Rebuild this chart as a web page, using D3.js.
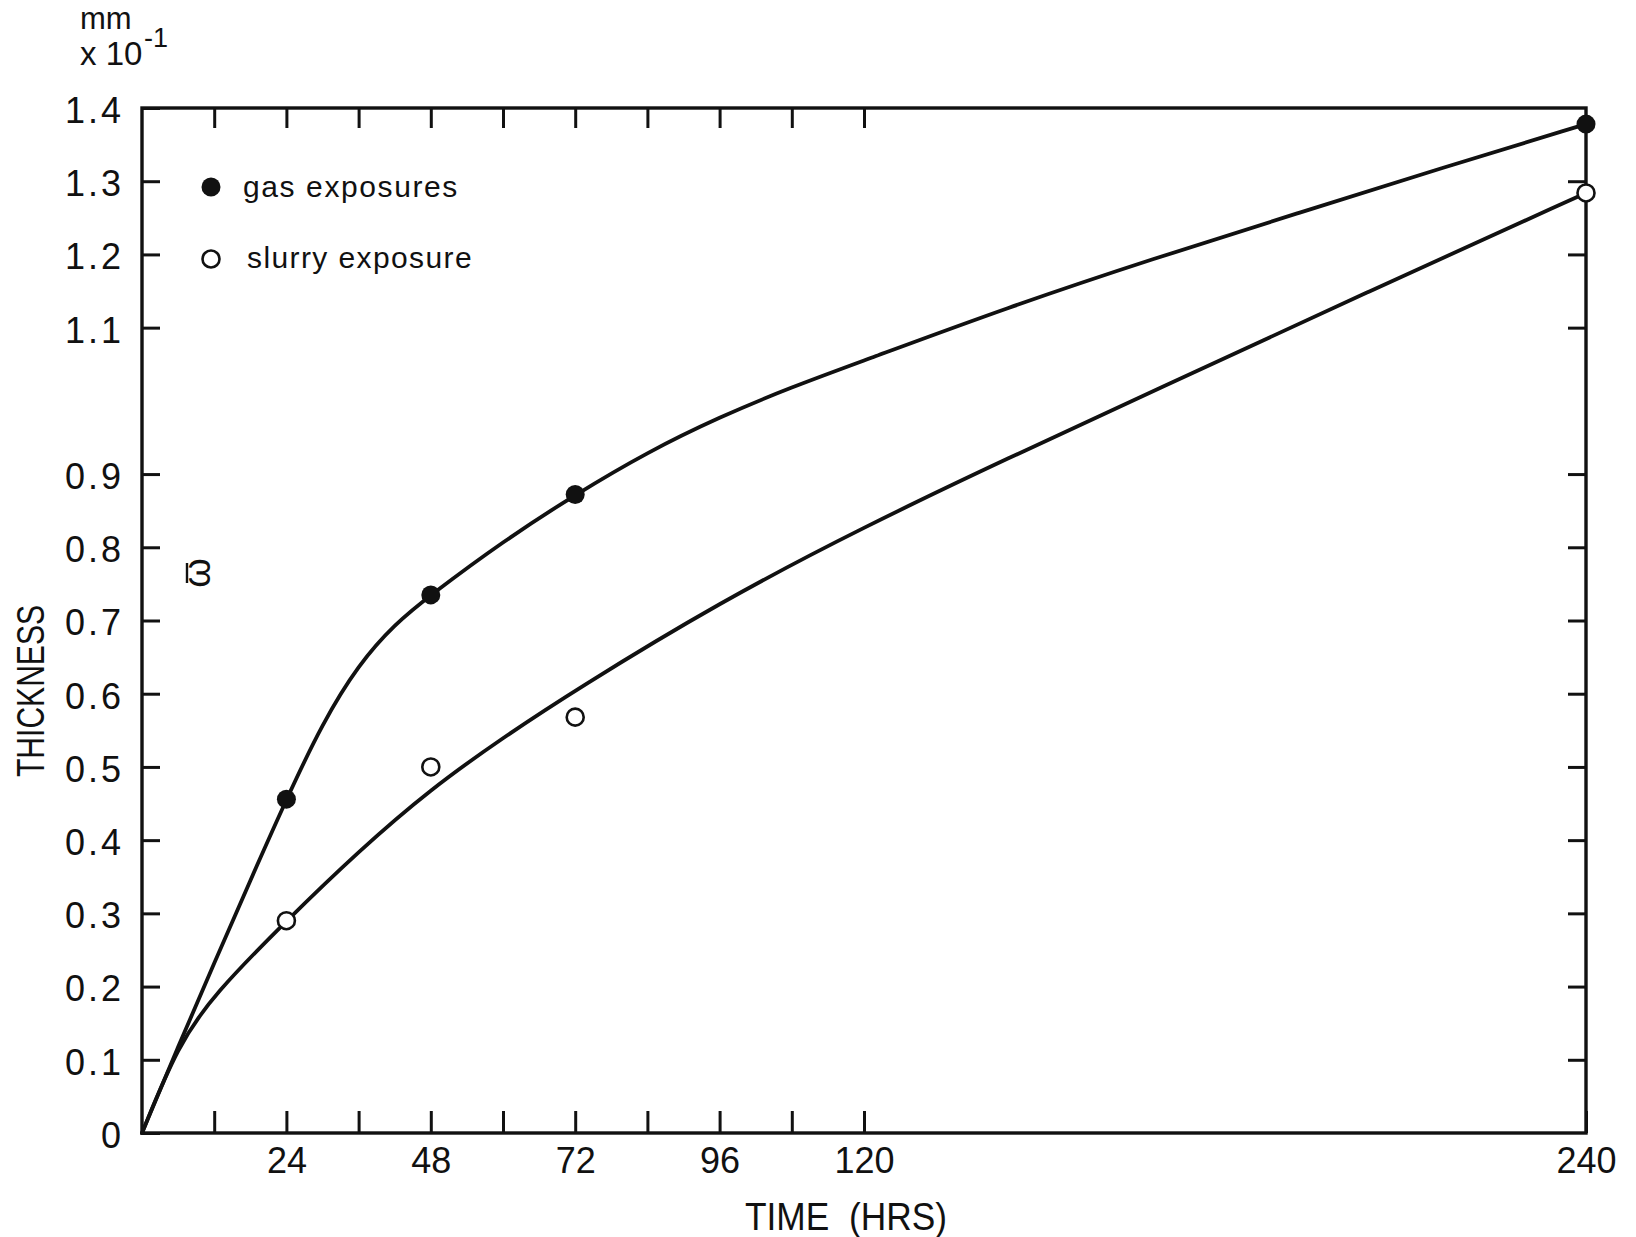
<!DOCTYPE html>
<html><head><meta charset="utf-8">
<script src="https://cdn.jsdelivr.net/npm/d3@7"></script>
<style>
html,body{margin:0;padding:0;background:#ffffff;}
svg{display:block;}
text{font-family:"Liberation Sans",Arial,sans-serif;fill:#111;}
</style></head><body>
<svg id="chart" width="1636" height="1237"></svg>
<script>
// ---- data ----
const gasHours = [24, 48, 72, 240];
const gasValues = [0.456, 0.735, 0.872, 1.378];
const slurryHours = [24, 48, 72, 240];
const slurryValues = [0.29, 0.50, 0.568, 1.284];

// hand-drawn fitted curves
const gasCurveHours = [0, 6, 12, 18, 24, 30, 36, 42, 48, 60, 72, 84, 96, 108, 120, 144, 168, 192, 216, 240];
const gasCurveValues = [0, 0.118, 0.232, 0.345, 0.456, 0.56, 0.64, 0.695, 0.735, 0.808, 0.872, 0.93, 0.978, 1.019, 1.055, 1.128, 1.194, 1.256, 1.318, 1.378];
const slurryCurveHours = [0, 6, 12, 24, 36, 48, 60, 72, 96, 120, 144, 168, 204, 240];
const slurryCurveValues = [0, 0.12, 0.19, 0.29, 0.385, 0.47, 0.54, 0.605, 0.725, 0.828, 0.922, 1.013, 1.15, 1.284];

const xTickValues = [12, 24, 36, 48, 60, 72, 84, 96, 108, 120, 240];
const xTickLabels = [24, 48, 72, 96, 120, 240];
const yTickValues = [0, 0.1, 0.2, 0.3, 0.4, 0.5, 0.6, 0.7, 0.8, 0.9, 1.1, 1.2, 1.3, 1.4];
const seriesNames = ["gas exposures", "slurry exposure"];

// ---- drawing ----
const svg = d3.select("#chart");
const ink = "#111";
const x = d3.scaleLinear().domain([0, 240]).range([142, 1586]);
const y = d3.scaleLinear().domain([0, 1.4]).range([1133, 108]);

function styleAxis(g, fontSize) {
  g.select(".domain").remove();
  g.selectAll(".tick line").attr("stroke", ink).attr("stroke-width", 3);
  g.selectAll(".tick text").attr("fill", ink).attr("font-size", fontSize)
    .attr("font-family", '"Liberation Sans", Arial, sans-serif');
}

// bottom axis with labels
svg.append("g").attr("transform", `translate(0,${y(0)})`)
  .call(d3.axisBottom(x).tickValues(xTickValues).tickSize(-22).tickPadding(14)
    .tickFormat(d => xTickLabels.includes(d) ? d : ""))
  .call(g => styleAxis(g, 36));
// top axis ticks
svg.append("g").attr("transform", `translate(0,${y(1.4)})`)
  .call(d3.axisTop(x).tickValues(xTickValues.filter(d => d < 240)).tickSize(-20).tickFormat(""))
  .call(g => styleAxis(g, 10));
// left axis with labels
svg.append("g").attr("transform", `translate(${x(0)},0)`)
  .call(d3.axisLeft(y).tickValues(yTickValues).tickSize(-18).tickPadding(18)
    .tickFormat(d => d === 0 ? "0" : d3.format(".1f")(d)))
  .call(g => styleAxis(g, 36))
  .call(g => g.selectAll(".tick text").attr("letter-spacing", 3).attr("dy", "0.4em"));
// right axis ticks
svg.append("g").attr("transform", `translate(${x(240)},0)`)
  .call(d3.axisRight(y).tickValues(yTickValues.filter(d => d > 0 && d < 1.4)).tickSize(-18).tickFormat(""))
  .call(g => styleAxis(g, 10));

// frame
svg.append("rect")
  .attr("x", x(0)).attr("y", y(1.4))
  .attr("width", x(240) - x(0)).attr("height", y(0) - y(1.4))
  .attr("fill", "none").attr("stroke", ink).attr("stroke-width", 3.4);

// curves
const line = d3.line().x(d => x(d[0])).y(d => y(d[1])).curve(d3.curveBasis);
svg.append("path").datum(d3.zip(gasCurveHours, gasCurveValues))
  .attr("d", line).attr("fill", "none").attr("stroke", ink).attr("stroke-width", 3.8)
  .attr("stroke-linecap", "round");
svg.append("path").datum(d3.zip(slurryCurveHours, slurryCurveValues))
  .attr("d", line).attr("fill", "none").attr("stroke", ink).attr("stroke-width", 3.8)
  .attr("stroke-linecap", "round");

// markers
svg.append("g").selectAll("circle").data(d3.zip(gasHours, gasValues)).join("circle")
  .attr("cx", d => x(d[0])).attr("cy", d => y(d[1])).attr("r", 9.5).attr("fill", ink);
svg.append("g").selectAll("circle").data(d3.zip(slurryHours, slurryValues)).join("circle")
  .attr("cx", d => x(d[0])).attr("cy", d => y(d[1])).attr("r", 8.5).attr("fill", "#fff")
  .attr("stroke", ink).attr("stroke-width", 2.6);

// legend
svg.append("circle").attr("cx", 211).attr("cy", 187).attr("r", 9.5).attr("fill", ink);
svg.append("text").attr("x", 243).attr("y", 197).attr("font-size", 30).attr("letter-spacing", 1.6).text(seriesNames[0]);
svg.append("circle").attr("cx", 211).attr("cy", 259).attr("r", 8.5).attr("fill", "#fff").attr("stroke", ink).attr("stroke-width", 2.6);
svg.append("text").attr("x", 247).attr("y", 268).attr("font-size", 30).attr("letter-spacing", 1.4).text(seriesNames[1]);

// unit label
svg.append("text").attr("x", 80).attr("y", 29).attr("font-size", 31).text("mm");
svg.append("text").attr("x", 80).attr("y", 65).attr("font-size", 33).text("x 10");
svg.append("text").attr("x", 144).attr("y", 47).attr("font-size", 27).text("-1");

// axis titles
svg.append("text").attr("transform", "translate(44,691) rotate(-90)")
  .attr("text-anchor", "middle").attr("font-size", 38)
  .attr("textLength", 172).attr("lengthAdjust", "spacingAndGlyphs").text("THICKNESS");
svg.append("text").attr("x", 846).attr("y", 1230)
  .attr("text-anchor", "middle").attr("font-size", 38)
  .attr("textLength", 202).attr("lengthAdjust", "spacingAndGlyphs").text("TIME\u00A0\u00A0(HRS)");

// omega-bar symbol (rotated, bar drawn beside it)
svg.append("text").attr("transform", "translate(210,573) rotate(-90)")
  .attr("text-anchor", "middle").attr("font-size", 38)
  .attr("font-family", '"DejaVu Sans", sans-serif').text("\u03C9");
svg.append("line").attr("x1", 187).attr("x2", 187).attr("y1", 563).attr("y2", 583)
  .attr("stroke", ink).attr("stroke-width", 2.4);
</script>
</body></html>
